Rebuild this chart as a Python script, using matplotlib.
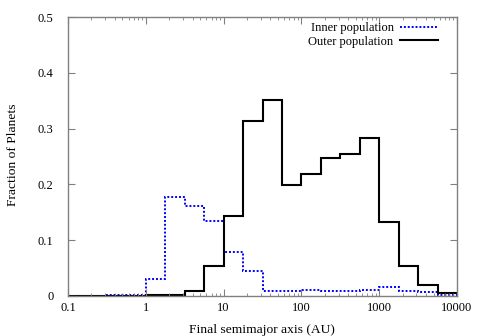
import numpy as np
import matplotlib
matplotlib.use("Agg")
import matplotlib.pyplot as plt
from matplotlib.ticker import LogLocator, NullFormatter

plt.rcParams['font.family'] = ['Liberation Serif', 'DejaVu Serif']

# bin edges: 4 bins per decade from 0.1 to 10000
edges = 10 ** (np.arange(0, 21) / 4.0 - 1.0)

inner = [0, 0, 0.001, 0.002, 0.030, 0.178, 0.161, 0.135, 0.079, 0.044,
         0.0095, 0.009, 0.010, 0.009, 0.0095, 0.011, 0.017, 0.009, 0.0066, 0.002]
outer = [0, 0, 0, 0, 0.001, 0.001, 0.009, 0.053, 0.143, 0.313,
         0.351, 0.199, 0.219, 0.247, 0.254, 0.284, 0.133, 0.054, 0.019, 0.005]

xticks = [0.1, 1, 10, 100, 1000, 10000]
xticklabels = ['0.1', '1', '10', '100', '1000', '10000']
yticks = [0, 0.1, 0.2, 0.3, 0.4, 0.5]
yticklabels = ['0', '0.1', '0.2', '0.3', '0.4', '0.5']

W, H = 480, 336
fig = plt.figure(figsize=(4.8, 3.36), dpi=100)
ax = fig.add_axes([68/W, 1 - 296/H, (457-68)/W, (296-17)/H])

ax.stairs(inner, edges, color='#0000ff', lw=1.4, linestyle=(0, (1, 1)),
          label='Inner population', baseline=None)
ax.stairs(outer, edges, color='black', lw=1.5, label='Outer population', baseline=None)

ax.set_xscale('log')
ax.set_xlim(0.1, 10000)
ax.set_ylim(0, 0.5)
ax.set_xticks(xticks)
ax.set_xticklabels(xticklabels)
ax.xaxis.set_minor_locator(LogLocator(base=10, subs=np.arange(2, 10)))
ax.xaxis.set_minor_formatter(NullFormatter())
ax.set_yticks(yticks)
ax.set_yticklabels(yticklabels)

for s in ax.spines.values():
    s.set_color('#808080')
    s.set_linewidth(1.0)
ax.tick_params(which='both', direction='in', top=True, right=True, colors='#808080',
               labelcolor='black', labelsize=9)
ax.tick_params(which='major', length=5)
ax.tick_params(which='minor', length=2.5)
ax.tick_params(axis='x', which='major', pad=4.5)
ax.tick_params(axis='y', which='major', pad=10.5)

fig.text(262/W, 1 - 329.5/H, 'Final semimajor axis (AU)', fontsize=9.7,
         ha='center', va='center')
fig.text(13/W, 1 - 155/H, 'Fraction of Planets', fontsize=9.7,
         ha='center', va='center', rotation=90)

ax.legend(loc='upper right', bbox_to_anchor=((438-68)/389, (296-22.5)/279),
          frameon=False, markerfirst=False, fontsize=9,
          handlelength=3.05, borderaxespad=0, borderpad=0, labelspacing=0.08,
          handletextpad=0.5)

fig.savefig('out.png', dpi=100)
